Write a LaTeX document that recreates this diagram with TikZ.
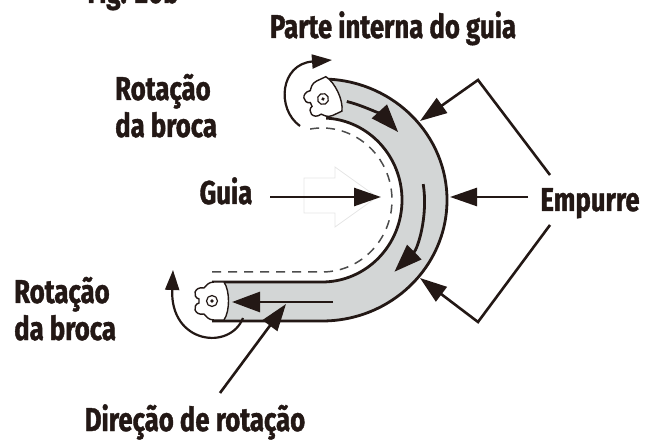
\documentclass[tikz,border=0pt]{standalone}
\usepackage{fontspec}
\setmainfont{Fira Sans}[FakeStretch=0.78, BoldFeatures={FakeBold=1.2}]
\usetikzlibrary{arrows.meta,positioning}

\definecolor{ink}{RGB}{35,24,21}
\definecolor{tubegray}{RGB}{211,214,214}

\tikzset{
  lbl/.style={font=\fontsize{33}{37}\selectfont\bfseries, text=ink, inner sep=0pt},
  tubeline/.style={draw=ink, line width=2.8pt},
  guideline/.style={draw=black!70, line width=1.5pt, dash pattern=on 9pt off 7pt},
  flow/.style={draw=ink, line width=2.8pt, -{Triangle[length=28pt,width=20pt]}},
  push/.style={draw=ink, line width=2.6pt, -{Triangle[length=27pt,width=18pt]}},
  spin/.style={draw=ink, line width=2.2pt, -{Triangle[length=20pt,width=14pt]}},
  cutter/.pic={
    \draw[draw=ink, line width=1.4pt, fill=white] (12,-19) -- (2,-19)
      .. controls (-4,-19) and (-6,-15) .. (-8,-13)
      .. controls (-18,-15) and (-20,-4) .. (-13,-2) -- (-13,2)
      .. controls (-20,4) and (-18,15) .. (-8,13)
      .. controls (-6,15) and (-4,19) .. (2,19) -- (12,19)
      .. controls (18,10) and (18,-10) .. (12,-19) -- cycle;
    \draw[draw=ink, line width=1.2pt] (0,0) circle (5.5pt);
    \fill[ink] (0,0) circle (1.8pt);
  }
}

\begin{document}
\begin{tikzpicture}[x=1pt,y=1pt]
\useasboundingbox (0,0) rectangle (658,439);

% guide tube
\fill[tubegray] (212,118) -- (322,118) arc[start angle=-90,end angle=87,x radius=125,y radius=121]
  -- (326.2,320.9) arc[start angle=87,end angle=-90,x radius=80,y radius=82] -- (212,157) -- cycle;
\draw[tubeline] (212,118) -- (322,118) arc[start angle=-90,end angle=87,x radius=125,y radius=121];
\draw[tubeline] (212,157) -- (322,157) arc[start angle=-90,end angle=87,x radius=80,y radius=82];
\draw[guideline] (212,167) -- (322,167) arc[start angle=-90,end angle=100,x radius=70,y radius=72];

% flow inside the tube
\coordinate (flowtop) at (346.8,337.5);
\coordinate (flowside) at (423.2,254.9);
\coordinate (flowend) at (333,137);
\coordinate (flowtip) at (232,137);
\draw[flow] (flowtop) arc[start angle=76,end angle=42,x radius=102.5,y radius=101.5];
\draw[flow] (flowside) arc[start angle=9,end angle=-45,x radius=102.5,y radius=101.5];
\draw[flow] (flowend) -- (flowtip);

% cutters at both ends
\pic at (212,138) {cutter};
\pic[rotate=25] at (323,340) {cutter};

% labels
\node[lbl, anchor=base] (fig) at (133,436) {Fig. 20b};
\node[lbl, anchor=base] (inner) at (393,401) {Parte interna do guia};
\node[lbl, anchor=base west] (rotA) at (115,339) {Rotação};
\node[lbl, anchor=base west] (brocaA) at ([yshift=-37pt]rotA.base west) {da broca};
\node[lbl, anchor=base] (guia) at (226,235) {Guia};
\node[lbl, anchor=base] (empurre) at (590,228) {Empurre};
\node[lbl, anchor=base west] (rotB) at (14,136) {Rotação};
\node[lbl, anchor=base west] (brocaB) at ([yshift=-37pt]rotB.base west) {da broca};
\node[lbl, anchor=base] (direcao) at (195,8) {Direção de rotação};

% guide arrow
\draw[black!10, line width=0.8pt] (304,226) -- (304,261) -- (335,261) -- (335,272)
  -- (377,242) -- (335,212) -- (335,226) -- cycle;
\coordinate (guiatail) at (270,242);
\coordinate (guiatip) at (381,242);
\draw[push] (guiatail) -- (guiatip);

% push arrows
\coordinate (pushtail) at (528,242);
\coordinate (pushtip) at (450,242);
\coordinate (upstart) at (550,264);
\coordinate (upbend) at (478,359);
\coordinate (uptip) at (420,318);
\coordinate (lowstart) at (550,214);
\coordinate (lowbend) at (478,117);
\coordinate (lowtip) at (420,161);
\draw[push] (pushtail) -- (pushtip);
\draw[push] (upstart) -- (upbend) -- (uptip);
\draw[push] (lowstart) -- (lowbend) -- (lowtip);

% rotation of the cutters
\draw[spin] (300,313) .. controls (276,330) and (280,375) .. (332,379);
\draw[spin] (243,121) .. controls (230,88) and (170,95) .. (173,169);

% turning direction
\coordinate (dirtail) at (220,46);
\coordinate (dirtip) at (286,135);
\draw[push] (dirtail) -- (dirtip);
\end{tikzpicture}
\end{document}
